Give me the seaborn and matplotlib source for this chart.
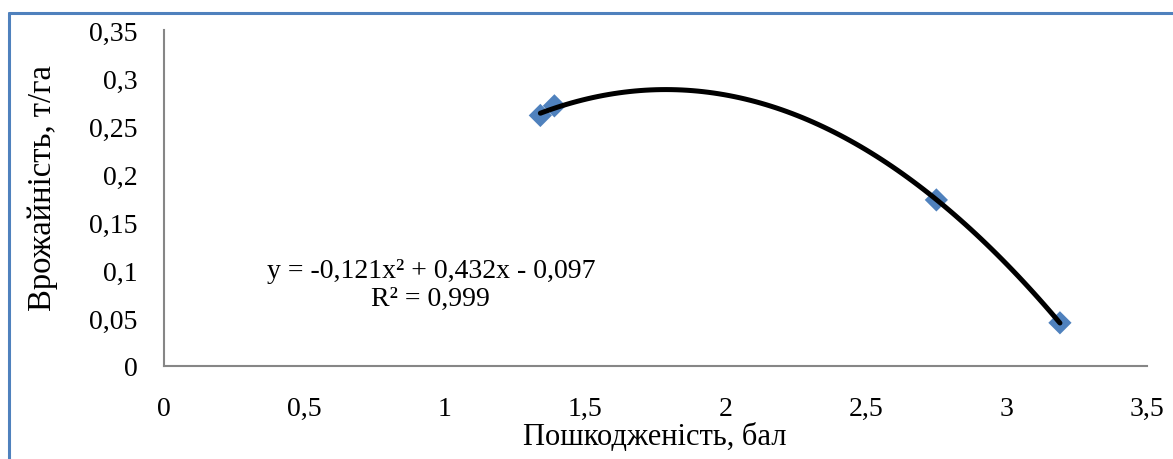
import matplotlib
matplotlib.use("Agg")
import matplotlib.pyplot as plt
from matplotlib.lines import Line2D
import seaborn as sns
import pandas as pd

# Data
damage = [1.34, 1.39, 2.75, 3.19]        # Пошкодженість, бал
yield_t = [0.261, 0.271, 0.173, 0.045]   # Врожайність, т/га
x_ticks = [0, 0.5, 1, 1.5, 2, 2.5, 3, 3.5]
x_tick_labels = ["0", "0,5", "1", "1,5", "2", "2,5", "3", "3,5"]
y_ticks = [0, 0.05, 0.1, 0.15, 0.2, 0.25, 0.3, 0.35]
y_tick_labels = ["0", "0,05", "0,1", "0,15", "0,2", "0,25", "0,3", "0,35"]
equation_text = "y = -0,121x\u00b2 + 0,432x - 0,097\nR\u00b2 = 0,999"

df = pd.DataFrame({"x": damage, "y": yield_t})

sns.set_theme(style="white")
plt.rcParams["font.family"] = ["Liberation Serif", "DejaVu Serif"]

fig = plt.figure(figsize=(11.73, 4.6), dpi=100)
ax = fig.add_axes([164 / 1173, 1 - 367 / 460, (1147 - 164) / 1173, (367 - 31) / 460])

marker_color = "#4F81BD"
sns.scatterplot(data=df, x="x", y="y", ax=ax, marker="D", s=140,
                color=marker_color, edgecolor="none", zorder=2)
sns.regplot(data=df, x="x", y="y", ax=ax, order=2, ci=None, truncate=True,
            scatter=False, line_kws={"color": "black", "lw": 3.6, "zorder": 3})

ax.set_xlim(0, 3.5)
ax.set_ylim(0, 0.35)
ax.set_xticks(x_ticks)
ax.set_xticklabels(x_tick_labels)
ax.set_yticks(y_ticks)
ax.set_yticklabels(y_tick_labels)

axis_color = "#868686"
for side in ["top", "right"]:
    ax.spines[side].set_visible(False)
for side in ["left", "bottom"]:
    ax.spines[side].set_color(axis_color)
    ax.spines[side].set_linewidth(1.5)

ax.tick_params(axis="both", which="major", direction="out", length=5, width=1.5,
               color=axis_color, labelsize=20, labelcolor="black")
ax.tick_params(axis="x", pad=16.5)
ax.tick_params(axis="y", pad=14)

ax.set_xlabel("Пошкодженість, бал", fontsize=22, color="black")
ax.set_ylabel("Врожайність, т/га", fontsize=23.5, color="black")
ax.xaxis.label.set_va("center")
ax.xaxis.label.set_ha("center")
ax.yaxis.label.set_va("center")
ax.yaxis.label.set_ha("center")
ax.xaxis.set_label_coords(0.499, -0.21)
ax.yaxis.set_label_coords(-0.123, 0.533)

ax.text(0.95, 0.085, equation_text, fontsize=20, ha="center", va="center",
        linespacing=1.15, color="black")

# Chart-area border (top and left edges visible)
border_color = "#4F81BD"
top_y = 1 - 14 / 460
left_x = 9 / 1173
fig.add_artist(Line2D([left_x, 1.0], [top_y, top_y], transform=fig.transFigure,
                      color=border_color, lw=2.2))
fig.add_artist(Line2D([left_x, left_x], [0.0, top_y], transform=fig.transFigure,
                      color=border_color, lw=2.2))

fig.savefig("out.png", dpi=100, facecolor="white")
